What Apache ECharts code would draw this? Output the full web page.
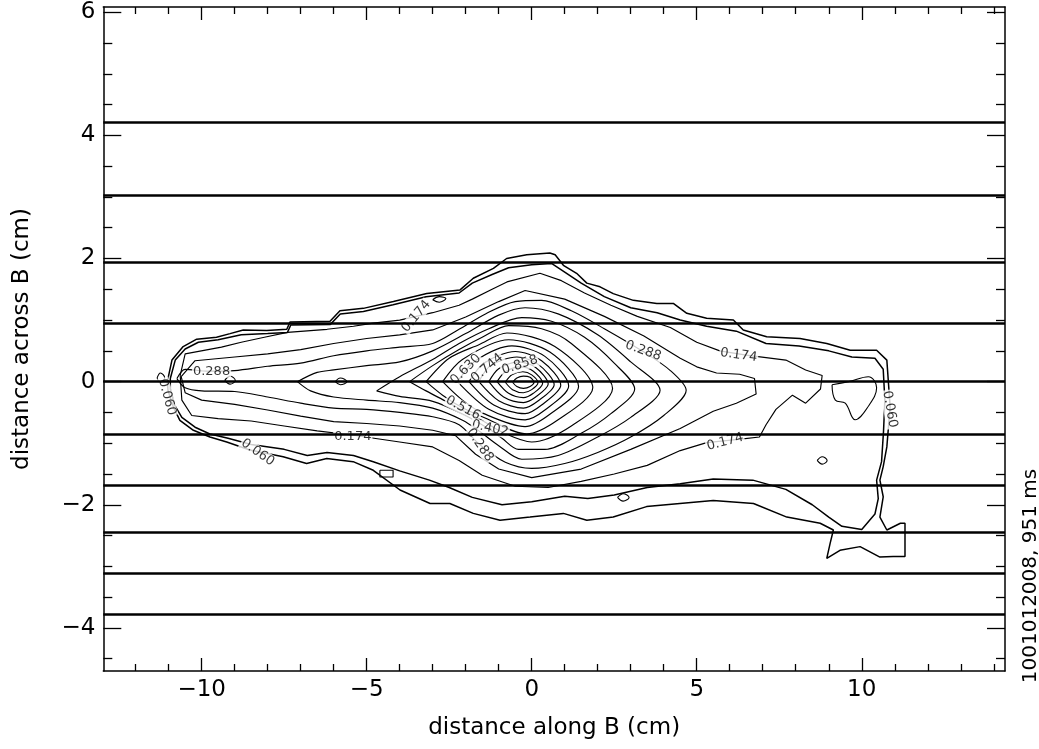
<!DOCTYPE html>
<html>
<head>
<meta charset="utf-8">
<script src="https://cdn.jsdelivr.net/npm/echarts@6/dist/echarts.min.js"></script>
<style>
  html, body { margin: 0; padding: 0; background: #fff; }
  #chart { width: 1039px; height: 749px; }
</style>
</head>
<body>
<div id="chart"></div>
<script>
// contour paths, in cm (closed: last point = first point)
const lvl060 = [[-11.04,0.0],[-10.9,0.35],[-10.56,0.57],[-10.15,0.69],[-9.55,0.72],[-9.14,0.78],[-8.74,0.84],[-8.03,0.83],[-7.42,0.85],[-7.32,0.97],[-6.11,0.98],[-5.81,1.15],[-5.1,1.19],[-4.19,1.3],[-3.18,1.43],[-2.17,1.49],[-1.77,1.68],[-1.16,1.84],[-0.76,2.0],[-0.15,2.06],[0.55,2.09],[0.71,2.06],[0.96,1.89],[1.36,1.76],[1.67,1.6],[2.07,1.54],[2.47,1.43],[3.08,1.32],[3.79,1.27],[4.29,1.27],[4.7,1.11],[5.3,1.03],[6.11,1.0],[6.41,0.84],[7.12,0.73],[8.13,0.7],[8.94,0.62],[9.65,0.51],[10.45,0.51],[10.76,0.35],[10.81,-0.03],[10.86,-0.41],[10.81,-0.73],[10.76,-1.06],[10.65,-1.38],[10.55,-1.6],[10.65,-1.87],[10.55,-2.2],[10.76,-2.41],[11.17,-2.3],[11.31,-2.3],[11.31,-2.84],[10.95,-2.84],[10.55,-2.85],[9.95,-2.68],[9.34,-2.74],[8.94,-2.87],[9.04,-2.63],[9.14,-2.41],[8.74,-2.3],[7.73,-2.2],[6.72,-1.98],[5.5,-1.93],[4.49,-1.98],[3.48,-2.03],[2.47,-2.2],[1.67,-2.25],[0.96,-2.14],[-0.05,-2.2],[-0.96,-2.25],[-1.77,-2.14],[-2.48,-1.98],[-3.08,-1.98],[-3.99,-1.76],[-4.8,-1.44],[-5.41,-1.3],[-6.21,-1.25],[-6.82,-1.33],[-7.53,-1.22],[-8.54,-1.11],[-9.24,-0.98],[-9.75,-0.9],[-10.25,-0.79],[-10.66,-0.63],[-10.86,-0.41],[-11.02,-0.14],[-11.04,0.0]];
const lvl117 = [[-10.95,0.05],[-10.8,0.35],[-10.5,0.53],[-10.1,0.64],[-9.5,0.68],[-8.8,0.76],[-8.0,0.78],[-7.4,0.8],[-7.3,0.92],[-6.1,0.93],[-5.8,1.1],[-5.1,1.14],[-4.2,1.25],[-3.2,1.38],[-2.2,1.44],[-1.8,1.6],[-1.2,1.74],[-0.7,1.85],[0.0,1.9],[0.6,1.92],[1.0,1.78],[1.5,1.6],[2.2,1.38],[3.0,1.2],[3.8,1.12],[4.5,1.0],[5.3,0.9],[6.2,0.82],[7.1,0.62],[8.1,0.58],[9.0,0.5],[9.7,0.4],[10.4,0.38],[10.65,0.2],[10.7,-0.3],[10.66,-0.8],[10.6,-1.3],[10.45,-1.6],[10.5,-1.9],[10.4,-2.15],[10.0,-2.4],[9.4,-2.35],[9.0,-2.2],[8.5,-2.0],[7.7,-1.75],[6.7,-1.6],[5.5,-1.58],[4.5,-1.66],[3.5,-1.72],[2.5,-1.84],[1.7,-1.9],[1.0,-1.86],[0.0,-1.95],[-0.9,-2.0],[-1.8,-1.88],[-2.5,-1.72],[-3.1,-1.6],[-4.0,-1.45],[-4.8,-1.3],[-5.4,-1.2],[-6.2,-1.15],[-6.8,-1.2],[-7.5,-1.1],[-8.5,-1.02],[-9.2,-0.92],[-9.75,-0.85],[-10.2,-0.74],[-10.6,-0.58],[-10.82,-0.38],[-10.95,-0.12],[-10.95,0.05]];
const lvl174 = [[-10.65,0.1],[-10.5,0.45],[-9.4,0.56],[-8.8,0.64],[-8.1,0.72],[-7.4,0.8],[-6.2,0.85],[-5.4,0.9],[-4.8,0.95],[-4.0,1.0],[-3.0,1.12],[-2.2,1.24],[-1.8,1.34],[-1.2,1.5],[-0.75,1.62],[0.25,1.76],[0.9,1.64],[1.6,1.44],[2.4,1.24],[3.2,1.06],[4.2,0.88],[5.0,0.64],[5.7,0.5],[6.5,0.43],[7.7,0.35],[8.3,0.19],[8.8,0.1],[8.75,-0.12],[8.3,-0.35],[7.9,-0.22],[7.4,-0.45],[7.1,-0.7],[6.9,-0.9],[6.4,-0.93],[5.3,-0.99],[4.5,-1.12],[3.5,-1.36],[2.5,-1.5],[1.5,-1.62],[0.5,-1.72],[-0.5,-1.7],[-1.5,-1.52],[-2.2,-1.28],[-3.0,-1.06],[-4.0,-0.98],[-5.4,-0.87],[-6.5,-0.8],[-7.5,-0.72],[-8.5,-0.64],[-9.5,-0.6],[-10.3,-0.55],[-10.6,-0.3],[-10.65,0.1]];
const lvl231 = [[-10.62,0.08],[-10.2,0.34],[-9.0,0.4],[-8.0,0.45],[-7.0,0.52],[-6.0,0.62],[-5.0,0.7],[-4.0,0.76],[-3.0,0.84],[-2.0,1.05],[-1.0,1.3],[-0.2,1.48],[1.0,1.34],[2.2,1.06],[3.4,0.74],[4.5,0.38],[5.0,0.24],[5.6,0.14],[6.3,0.12],[6.75,0.05],[6.8,-0.2],[6.2,-0.35],[5.5,-0.48],[4.5,-0.76],[3.0,-1.1],[1.5,-1.42],[0.0,-1.56],[-1.0,-1.42],[-1.7,-1.18],[-2.3,-0.88],[-3.0,-0.79],[-4.0,-0.72],[-5.0,-0.68],[-6.0,-0.65],[-7.0,-0.56],[-8.0,-0.46],[-9.0,-0.37],[-10.0,-0.3],[-10.5,-0.18],[-10.62,0.08]];
const lvl288 = [[-10.75,0.05],[-10.5,0.2],[-9.8,0.17],[-9.0,0.18],[-8.0,0.25],[-7.0,0.3],[-6.0,0.42],[-5.0,0.5],[-4.0,0.56],[-3.0,0.62],[-2.2,0.85],[-1.4,1.1],[-0.5,1.3],[0.3,1.32],[1.2,1.15],[2.2,0.86],[3.4,0.48],[4.2,0.18],[4.68,-0.14],[4.0,-0.55],[3.0,-0.9],[2.0,-1.15],[1.0,-1.33],[0.0,-1.41],[-0.8,-1.31],[-1.56,-1.03],[-2.2,-0.7],[-3.0,-0.57],[-4.0,-0.5],[-5.0,-0.45],[-6.0,-0.43],[-7.0,-0.35],[-8.0,-0.25],[-9.0,-0.16],[-10.0,-0.15],[-10.5,-0.1],[-10.75,0.05]];
const lvl345 = [[-7.1,0.0],[-6.5,0.15],[-6.0,0.19],[-5.0,0.26],[-4.0,0.32],[-3.0,0.5],[-2.0,0.78],[-1.0,1.08],[-0.2,1.2],[0.8,1.1],[2.0,0.76],[3.0,0.32],[3.89,-0.14],[3.0,-0.58],[2.0,-0.9],[0.8,-1.2],[-0.3,-1.26],[-1.0,-1.04],[-1.6,-0.8],[-2.08,-0.63],[-3.0,-0.43],[-4.0,-0.34],[-5.0,-0.3],[-6.0,-0.25],[-6.7,-0.15],[-7.1,0.0]];
const lvl402 = [[-4.7,-0.15],[-4.0,0.08],[-3.0,0.36],[-2.2,0.62],[-1.3,0.86],[-0.3,1.04],[0.6,0.98],[1.6,0.72],[2.5,0.3],[3.12,-0.12],[2.4,-0.52],[1.5,-0.84],[0.4,-1.1],[-0.4,-1.1],[-0.9,-0.92],[-1.26,-0.78],[-2.08,-0.53],[-3.0,-0.32],[-4.0,-0.24],[-4.7,-0.15]];
const lvl459 = [[-3.7,0.0],[-3.0,0.26],[-2.2,0.52],[-1.5,0.72],[-0.7,0.91],[0.3,0.86],[1.2,0.62],[2.45,-0.11],[1.2,-0.72],[0.0,-0.98],[-0.9,-0.82],[-1.5,-0.63],[-2.08,-0.47],[-2.6,-0.32],[-3.2,-0.15],[-3.7,0.0]];
const lvl516 = [[-3.2,0.0],[-2.5,0.38],[-1.6,0.6],[-0.75,0.79],[0.7,0.57],[1.85,-0.1],[0.8,-0.62],[-0.15,-0.85],[-1.5,-0.57],[-2.08,-0.43],[-2.7,-0.22],[-3.2,0.0]];
const lvl573 = [[-2.7,0.0],[-2.1,0.36],[-0.7,0.68],[0.55,0.48],[1.42,-0.08],[0.55,-0.53],[-0.2,-0.73],[-1.45,-0.52],[-2.1,-0.3],[-2.7,0.0]];
const lvl630 = [[-2.25,0.0],[-1.7,0.34],[-0.6,0.58],[0.4,0.41],[1.12,-0.07],[0.4,-0.46],[-0.2,-0.62],[-1.3,-0.45],[-2.25,0.0]];
const lvl687 = [[-1.9,0.0],[-1.45,0.3],[-0.5,0.49],[0.3,0.34],[0.88,-0.06],[0.3,-0.38],[-0.2,-0.52],[-1.15,-0.38],[-1.9,0.0]];
const lvl744 = [[-1.6,0.0],[-1.25,0.26],[-0.45,0.4],[0.2,0.28],[0.68,-0.05],[0.2,-0.31],[-0.25,-0.43],[-1.0,-0.31],[-1.6,0.0]];
const lvl801 = [[-1.3,0.0],[-1.0,0.21],[-0.4,0.32],[0.12,0.23],[0.5,-0.04],[0.12,-0.25],[-0.25,-0.34],[-0.85,-0.25],[-1.3,0.0]];
const lvl858 = [[-1.05,0.0],[-0.8,0.16],[-0.35,0.24],[0.05,0.17],[0.33,-0.03],[0.05,-0.19],[-0.25,-0.26],[-0.7,-0.19],[-1.05,0.0]];
const lvl915 = [[-0.8,-0.01],[-0.6,0.11],[-0.27,0.16],[0.0,0.11],[0.19,-0.02],[0.0,-0.13],[-0.25,-0.18],[-0.58,-0.13],[-0.8,-0.01]];
const lvl972 = [[-0.58,-0.01],[-0.45,0.06],[-0.25,0.09],[-0.05,0.07],[0.07,-0.01],[-0.05,-0.08],[-0.25,-0.11],[-0.45,-0.08],[-0.58,-0.01]];

// small closed islands
const islandRight = [[9.1,-0.05],[9.6,0.0],[10.2,0.08],[10.45,-0.1],[10.2,-0.4],[9.8,-0.62],[9.5,-0.35],[9.2,-0.3],[9.1,-0.05]];
const islandLow = [[8.65,-1.28],[8.8,-1.22],[8.95,-1.28],[8.8,-1.34],[8.65,-1.28]];
const islandTip = [[-11.35,0.06],[-11.25,0.14],[-11.12,0.06],[-11.25,-0.02],[-11.35,0.06]];
const islandTop = [[-3.0,1.33],[-2.8,1.38],[-2.6,1.35],[-2.8,1.29],[-3.0,1.33]];
const islandMidLeft = [[-5.95,0.0],[-5.8,0.06],[-5.6,0.0],[-5.8,-0.05],[-5.95,0.0]];
const islandFarLeft = [[-9.3,0.02],[-9.14,0.09],[-8.98,0.02],[-9.14,-0.04],[-9.3,0.02]];
const islandBottom = [[-4.6,-1.44],[-4.2,-1.44],[-4.2,-1.55],[-4.6,-1.55],[-4.6,-1.44]];
const islandLowMid = [[2.6,-1.88],[2.77,-1.82],[2.95,-1.88],[2.77,-1.94],[2.6,-1.88]];

const levels = [0.060,0.117,0.174,0.231,0.288,0.345,0.402,0.459,0.516,0.573,0.630,0.687,0.744,0.801,0.858,0.915,0.972];
const levelPaths = [lvl060,lvl117,lvl174,lvl231,lvl288,lvl345,lvl402,lvl459,lvl516,lvl573,lvl630,lvl687,lvl744,lvl801,lvl858,lvl915,lvl972];
const islands = [islandRight, islandLow, islandTip, islandTop, islandMidLeft, islandFarLeft, islandBottom, islandLowMid];

// contour labels: x, y, text
const contourLabels = [
  [-9.7, 0.17, '0.288'], [-3.5, 1.06, '0.174'], [-5.42, -0.89, '0.174'],
  [3.38, 0.5, '0.288'], [6.27, 0.43, '0.174'], [5.86, -0.98, '0.174'],
  [-2.08, -0.43, '0.516'], [-1.26, -0.76, '0.402'], [-1.57, -1.03, '0.288'],
  [-2.0, 0.2, '0.630'], [-1.35, 0.22, '0.744'], [-0.36, 0.27, '0.858'],
  [-11.05, -0.25, '0.060'], [-8.3, -1.15, '0.060'], [10.85, -0.45, '0.060']
];

// horizontal chords across B
const stripeY = [4.205, 3.031, 1.937, 0.946, 0, -0.848, -1.693, -2.441, -3.117, -3.783];

const xMajor = [-10, -5, 0, 5, 10];
const xMinor = [-12,-11,-9,-8,-7,-6,-4,-3,-2,-1,1,2,3,4,6,7,8,9,11,12,13,14];
const yMajor = [-4, -2, 0, 2, 4, 6];
const yMinor = [-4.5,-3.5,-3,-2.5,-1.5,-1,-0.5,0.5,1,1.5,2.5,3,3.5,4.5,5,5.5];

const xMin = -12.98, xMax = 14.34, yMin = -4.70, yMax = 6.085;
const FONT = 'DejaVu Sans';
const labelTilt = [0, 50, 0, -20, -8, 15, -28, -12, -55, 45, 40, 18, -75, -35, -80];

const chart = echarts.init(document.getElementById('chart'), null, { renderer: 'canvas' });

const minus = v => (v < 0 ? '\u2212' + (-v) : String(v));

function xAxisDef(pos, ticks, len, withLine, withLabel) {
  return {
    type: 'value', position: pos, min: xMin, max: xMax, gridIndex: 0,
    axisLine: { show: withLine, onZero: false, lineStyle: { color: '#000', width: 1.5 } },
    axisTick: { show: true, inside: true, length: len, customValues: ticks, lineStyle: { color: '#000', width: 1.3 } },
    axisLabel: withLabel ? { show: true, customValues: ticks, formatter: minus, color: '#000', fontSize: 23, fontFamily: FONT, margin: 8 } : { show: false },
    splitLine: { show: false },
    name: withLabel ? 'distance along B (cm)' : '',
    nameLocation: 'middle', nameGap: 46,
    nameTextStyle: { color: '#000', fontSize: 23, fontFamily: FONT }
  };
}
function yAxisDef(pos, ticks, len, withLine, withLabel) {
  return {
    type: 'value', position: pos, min: yMin, max: yMax, gridIndex: 0,
    axisLine: { show: withLine, onZero: false, lineStyle: { color: '#000', width: 1.5 } },
    axisTick: { show: true, inside: true, length: len, customValues: ticks, lineStyle: { color: '#000', width: 1.3 } },
    axisLabel: withLabel ? { show: true, customValues: ticks, formatter: minus, color: '#000', fontSize: 23, fontFamily: FONT, margin: 8 } : { show: false },
    splitLine: { show: false },
    name: withLabel ? 'distance across B (cm)' : '',
    nameLocation: 'middle', nameGap: 70,
    nameTextStyle: { color: '#000', fontSize: 23, fontFamily: FONT }
  };
}

const series = [];
levelPaths.forEach((path, i) => {
  series.push({
    name: levels[i].toFixed(3), type: 'line', data: path,
    showSymbol: false, symbol: 'none', silent: true, z: 2,
    smooth: i >= 4 ? 0.3 : false,
    lineStyle: { color: '#000', width: i < 2 ? 1.5 : 1.15 }
  });
});
islands.forEach(path => {
  series.push({
    type: 'line', data: path, showSymbol: false, symbol: 'none', silent: true, z: 2,
    smooth: 0.4,
    lineStyle: { color: '#000', width: 1.1 }
  });
});
series.push({
  type: 'scatter', silent: true, z: 3,
  symbolSize: 1, itemStyle: { color: 'rgba(0,0,0,0)' },
  data: contourLabels.map((d, i) => ({ value: [d[0], d[1]], name: d[2], label: { rotate: labelTilt[i] } })),
  label: {
    show: true, position: 'inside', formatter: p => p.name,
    color: '#000', fontSize: 13, fontFamily: FONT,
    backgroundColor: '#fff', padding: [0, 1]
  }
});
series.push({
  type: 'line', data: [], silent: true, z: 5,
  markLine: {
    silent: true, symbol: ['none', 'none'], label: { show: false },
    lineStyle: { color: '#000', width: 2.6, type: 'solid' },
    emphasis: { disabled: true },
    data: stripeY.map(v => ({ yAxis: v }))
  }
});

chart.setOption({
  animation: false,
  backgroundColor: '#fff',
  grid: { left: 103.3, right: 34, top: 7, bottom: 78, containLabel: false, outerBoundsMode: 'none' },
  xAxis: [
    xAxisDef('bottom', xMajor, 13, true, true),
    xAxisDef('bottom', xMinor, 7, false, false),
    xAxisDef('top', xMajor, 13, true, false),
    xAxisDef('top', xMinor, 7, false, false)
  ],
  yAxis: [
    yAxisDef('left', yMajor, 18, true, true),
    yAxisDef('left', yMinor, 9, false, false),
    yAxisDef('right', yMajor, 18, true, false),
    yAxisDef('right', yMinor, 9, false, false)
  ],
  graphic: [{
    type: 'text', x: 1031, y: 576, rotation: Math.PI / 2,
    style: { text: '1001012008, 951 ms', font: '20px "DejaVu Sans"', fill: '#000', align: 'center', verticalAlign: 'middle' }
  }],
  series: series
});
</script>
</body>
</html>
